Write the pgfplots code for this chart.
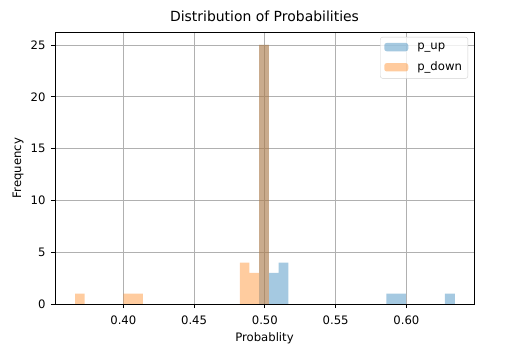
\documentclass[border=0pt]{standalone}
\usepackage{pgfplots}
\pgfplotsset{compat=1.18}
\usepackage{fontspec}
\setmainfont{DejaVu Sans}
\definecolor{mplblue}{HTML}{1F77B4}
\definecolor{mplorange}{HTML}{FF7F0E}
\begin{document}
\begin{tikzpicture}[x=1bp,y=1bp]
\path[use as bounding box] (-55bp,-48bp) rectangle (450bp,304bp);
\begin{axis}[
  at={(0bp,0bp)}, anchor=south west,
  scale only axis, width=419bp, height=272bp,
  xmin=0.3517, xmax=0.6478, ymin=0, ymax=26.25,
  xtick={0.40,0.45,0.50,0.55,0.60},
  ytick={0,5,10,15,20,25},
  grid=major,
  major grid style={color=black!31, line width=0.9bp},
  axis line style={line width=0.9bp},
  tick style={black, line width=0.9bp},
  tick align=outside, major tick length=4bp,
  xtick pos=bottom, ytick pos=left,
  tick label style={font=\fontsize{11.7}{14}\selectfont},
  xticklabel style={yshift=-4bp},
  yticklabel style={xshift=-2bp},
  /pgf/number format/assume math mode=true,
  xticklabel style={/pgf/number format/fixed, /pgf/number format/fixed zerofill, /pgf/number format/precision=2},
  yticklabel style={/pgf/number format/fixed, /pgf/number format/precision=0},
  title={Distribution of Probabilities},
  title style={font=\fontsize{14}{17}\selectfont, at={(axis description cs:0.5,1.035)}, anchor=center},
  xlabel={Probablity},
  ylabel={Frequency},
  xlabel style={font=\fontsize{11.7}{14}\selectfont, at={(axis description cs:0.5,-0.125)}, anchor=center},
  ylabel style={font=\fontsize{11.7}{14}\selectfont, at={(axis description cs:-0.088,0.5)}, anchor=center},
  legend cell align=left,
  legend style={at={(axis description cs:0.986,0.982)}, anchor=north east,
    draw=black!18, rounded corners=2.5bp, fill=white, fill opacity=0.8, text opacity=1,
    font=\fontsize{11.7}{14}\selectfont, inner xsep=4bp, inner ysep=4bp, row sep=7bp,
    /tikz/every odd column/.append style={column sep=7bp}},
  legend image code/.code={\fill[#1, draw=none] (0bp,-4.2bp) rectangle (24bp,4.2bp);},
]
\addplot[ybar interval, fill=mplblue, fill opacity=0.4, draw=none] coordinates {
(0.4959,25) (0.5028,3) (0.5097,4) (0.5166,0) (0.5236,0) (0.5305,0) (0.5374,0)
(0.5443,0) (0.5512,0) (0.5581,0) (0.5651,0) (0.5720,0) (0.5789,0) (0.5858,1)
(0.5927,1) (0.5996,0) (0.6065,0) (0.6135,0) (0.6204,0) (0.6273,1) (0.6342,0)
};
\addlegendentry{p\_up}
\addplot[ybar interval, fill=mplorange, fill opacity=0.4, draw=none] coordinates {
(0.3659,1) (0.3727,0) (0.3796,0) (0.3864,0) (0.3933,0) (0.4001,1) (0.4070,1)
(0.4138,0) (0.4207,0) (0.4275,0) (0.4344,0) (0.4412,0) (0.4480,0) (0.4549,0)
(0.4617,0) (0.4686,0) (0.4754,0) (0.4823,4) (0.4891,3) (0.4960,25) (0.5028,0)
};
\addlegendentry{p\_down}
\end{axis}
\end{tikzpicture}
\end{document}
